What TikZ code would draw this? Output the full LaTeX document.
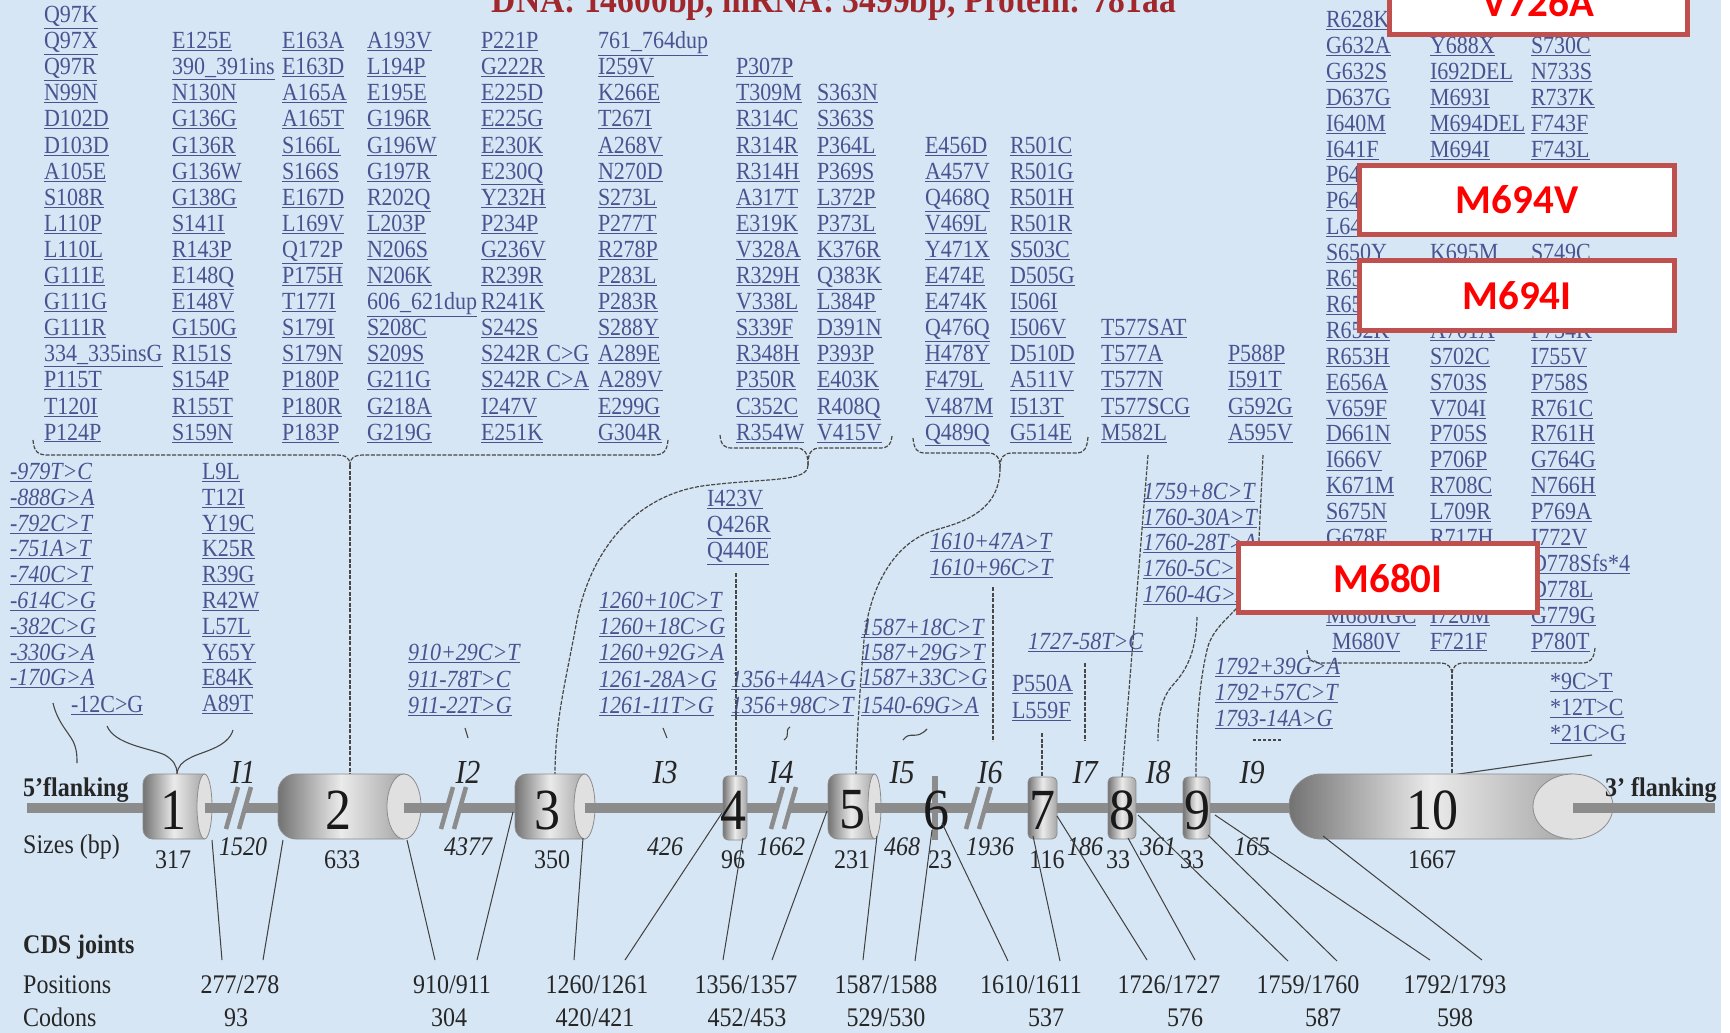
\documentclass[tikz,border=0pt]{standalone}
\usepackage{fontspec}
\usepackage{graphicx}
\setmainfont{Liberation Serif}
\newfontfamily\boxfont{Carlito}
\definecolor{bgblue}{RGB}{214,230,244}
\definecolor{linkblue}{RGB}{72,84,145}
\definecolor{boxred}{RGB}{192,80,77}
\definecolor{titlered}{RGB}{160,40,45}
\definecolor{axisgray}{RGB}{140,140,140}
\newcommand\mul[1]{\scalebox{1}[1.12]{\underline{#1}}}
\newcommand\vst[1]{\scalebox{1}[1.12]{#1}}
\begin{document}
\begin{tikzpicture}[x=1pt,y=-1pt,
  mut/.style={anchor=base west, inner sep=0pt, outer sep=0pt, text=linkblue, font=\fontsize{22}{24}\selectfont},
  imut/.style={mut, font=\fontsize{22}{24}\selectfont\itshape},
  conn/.style={draw=black!72, line width=1.2pt, dash pattern=on 4pt off 1.5pt},
  solidc/.style={draw=black!72, line width=1.1pt},
  joint/.style={draw=black!75, line width=1pt},
  exonbody/.style={left color=black!55, right color=black!35, middle color=black!8, draw=black!45, line width=0.8pt},
  face/.style={fill=black!12, draw=black!45, line width=0.8pt},
  exnum/.style={font=\fontsize{52}{52}\selectfont, text=black!90, inner sep=0pt},
  inlab/.style={font=\fontsize{30}{30}\selectfont\itshape, text=black!85, anchor=base, inner sep=0pt},
  isz/.style={font=\fontsize{24}{24}\selectfont\itshape, text=black!85, anchor=base, inner sep=0pt},
  esz/.style={font=\fontsize{24}{24}\selectfont, text=black!85, anchor=base, inner sep=0pt},
  lbl/.style={font=\fontsize{24}{24}\selectfont, text=black!85, anchor=base west, inner sep=0pt},
  blbl/.style={font=\fontsize{24}{24}\selectfont\bfseries, text=black!85, anchor=base west, inner sep=0pt},
  redbox/.style={draw=boxred, line width=5pt, fill=white, text=red, font=\boxfont\bfseries\fontsize{41}{44}\selectfont, inner sep=0pt},
  brk/.pic={\fill[bgblue] (-9.7,6) -- (3.3,6) -- (6.7,-6) -- (-6.3,-6) -- cycle;
            \draw[axisgray, line width=4.5pt] (-14,21) -- (-2,-21) (-1,21) -- (11,-21);}
]
\useasboundingbox (0,0) rectangle (1730,1033);
\clip (0,0) rectangle (1730,1033);
\fill[white] (0,0) rectangle (1730,1033);
\fill[bgblue] (0,0) rectangle (1721,1033);

% title
\node[font=\fontsize{33.6}{36}\selectfont\bfseries, text=titlered, anchor=base, inner sep=0pt] (title) at (834,12.5) {\vst{DNA: 14600bp, mRNA: 3499bp, Protein: 781aa}};

% ---------- exon 2-5 mutation columns ----------
\foreach \m [count=\r from 0] in {Q97K,Q97X,Q97R,N99N,D102D,D103D,A105E,S108R,L110P,L110L,G111E,G111G,G111R,334\_335insG,P115T,T120I,P124P}
  \node[mut] (a1-\r) at (44,{22.5+26.1*\r}) {\mul{\m}};
\foreach \m [count=\r from 1] in {E125E,390\_391ins,N130N,G136G,G136R,G136W,G138G,S141I,R143P,E148Q,E148V,G150G,R151S,S154P,R155T,S159N}
  \node[mut] (a2-\r) at (172,{22.5+26.1*\r}) {\mul{\m}};
\foreach \m [count=\r from 1] in {E163A,E163D,A165A,A165T,S166L,S166S,E167D,L169V,Q172P,P175H,T177I,S179I,S179N,P180P,P180R,P183P}
  \node[mut] (a3-\r) at (282,{22.5+26.1*\r}) {\mul{\m}};
\foreach \m [count=\r from 1] in {A193V,L194P,E195E,G196R,G196W,G197R,R202Q,L203P,N206S,N206K,606\_621dup,S208C,S209S,G211G,G218A,G219G}
  \node[mut] (a4-\r) at (367,{22.5+26.1*\r}) {\mul{\m}};
\foreach \m [count=\r from 1] in {P221P,G222R,E225D,E225G,E230K,E230Q,Y232H,P234P,G236V,R239R,R241K,S242S,S242R C>G,S242R C>A,I247V,E251K}
  \node[mut] (a5-\r) at (481,{22.5+26.1*\r}) {\mul{\m}};
\foreach \m [count=\r from 1] in {761\_764dup,I259V,K266E,T267I,A268V,N270D,S273L,P277T,R278P,P283L,P283R,S288Y,A289E,A289V,E299G,G304R}
  \node[mut] (a6-\r) at (598,{22.5+26.1*\r}) {\mul{\m}};
\foreach \m [count=\r from 2] in {P307P,T309M,R314C,R314R,R314H,A317T,E319K,V328A,R329H,V338L,S339F,R348H,P350R,C352C,R354W}
  \node[mut] (a7-\r) at (736,{22.5+26.1*\r}) {\mul{\m}};
\foreach \m [count=\r from 3] in {S363N,S363S,P364L,P369S,L372P,P373L,K376R,Q383K,L384P,D391N,P393P,E403K,R408Q,V415V}
  \node[mut] (a8-\r) at (817,{22.5+26.1*\r}) {\mul{\m}};
\foreach \m [count=\r from 5] in {E456D,A457V,Q468Q,V469L,Y471X,E474E,E474K,Q476Q,H478Y,F479L,V487M,Q489Q}
  \node[mut] (a9-\r) at (925,{22.5+26.1*\r}) {\mul{\m}};
\foreach \m [count=\r from 5] in {R501C,R501G,R501H,R501R,S503C,D505G,I506I,I506V,D510D,A511V,I513T,G514E}
  \node[mut] (a10-\r) at (1010,{22.5+26.1*\r}) {\mul{\m}};
\foreach \m [count=\r from 12] in {T577SAT,T577A,T577N,T577SCG,M582L}
  \node[mut] (a11-\r) at (1101,{22.5+26.1*\r}) {\mul{\m}};
\foreach \m [count=\r from 13] in {P588P,I591T,G592G,A595V}
  \node[mut] (a12-\r) at (1228,{22.5+26.1*\r}) {\mul{\m}};

% ---------- exon 10 columns ----------
\foreach \k/\m in {0/R628K,1/G632A,2/G632S,3/D637G,4/I640M,5/I641F,6/P64,7/P64,8/L64,9/S650Y,10/R65,11/R65,12/R652K,13/R653H,14/E656A,15/V659F,16/D661N,17/I666V,18/K671M,19/S675N,20/G678E,23/M680IGC}
  \node[mut] (b13-\k) at (1326,{27.5+25.9*\k}) {\mul{\m}};
\node[mut] (b13-24) at (1332,{27.5+25.9*24}) {\mul{M680V}};
\foreach \k/\m in {1/Y688X,2/I692DEL,3/M693I,4/M694DEL,5/M694I,9/K695M,12/A701A,13/S702C,14/S703S,15/V704I,16/P705S,17/P706P,18/R708C,19/L709R,20/R717H,23/I720M,24/F721F}
  \node[mut] (b14-\k) at (1430,{27.5+25.9*\k}) {\mul{\m}};
\foreach \k/\m in {1/S730C,2/N733S,3/R737K,4/F743F,5/F743L,9/S749C,12/F754K,13/I755V,14/P758S,15/R761C,16/R761H,17/G764G,18/N766H,19/P769A,20/I772V,21/D778Sfs*4,22/D778L,23/G779G,24/P780T}
  \node[mut] (b15-\k) at (1531,{27.5+25.9*\k}) {\mul{\m}};

% ---------- lower lists ----------
\foreach \m [count=\j from 0] in {-979T>C,-888G>A,-792C>T,-751A>T,-740C>T,-614C>G,-382C>G,-330G>A,-170G>A}
  \node[imut] (f5-\j) at (10,{479.5+25.8*\j}) {\mul{\m}};
\node[mut] (m12) at (71,712) {\mul{-12C>G}};
\foreach \m [count=\j from 0] in {L9L,T12I,Y19C,K25R,R39G,R42W,L57L,Y65Y,E84K,A89T}
  \node[mut] (e1-\j) at (202,{479.5+25.8*\j}) {\mul{\m}};
\foreach \m/\yy [count=\j] in {I423V/506.5,Q426R/532.5,Q440E/558.5}
  \node[mut] (e4-\j) at (707,\yy) {\mul{\m}};
\foreach \m/\yy [count=\j] in {910+29C>T/660.5,911-78T>C/687.5,911-22T>G/713.5}
  \node[imut] (i2-\j) at (408,\yy) {\mul{\m}};
\foreach \m/\yy [count=\j] in {1260+10C>T/608,1260+18C>G/634,1260+92G>A/660.5,1261-28A>G/687.5,1261-11T>G/713.5}
  \node[imut] (i3-\j) at (599,\yy) {\mul{\m}};
\foreach \m/\yy [count=\j] in {1356+44A>G/687.5,1356+98C>T/713.5}
  \node[imut] (i4-\j) at (731,\yy) {\mul{\m}};
\foreach \m/\yy [count=\j] in {1587+18C>T/635.5,1587+29G>T/660.5,1587+33C>G/685.5,1540-69G>A/713.5}
  \node[imut] (i5-\j) at (861,\yy) {\mul{\m}};
\foreach \m/\yy [count=\j] in {1610+47A>T/549.5,1610+96C>T/575.5}
  \node[imut] (i6-\j) at (930,\yy) {\mul{\m}};
\foreach \m/\yy [count=\j] in {P550A/691.5,L559F/718.5}
  \node[mut] (e7-\j) at (1012,\yy) {\mul{\m}};
\node[imut] (i7-1) at (1028,649.5) {\mul{1727-58T>C}};
\foreach \m/\yy [count=\j] in {1759+8C>T/499.5,1760-30A>T/525,1760-28T>A/550,1760-5C>T/576,1760-4G>A/602.5}
  \node[imut] (i8-\j) at (1143,\yy) {\mul{\m}};
\foreach \m/\yy [count=\j] in {1792+39G>A/674.5,1792+57C>T/700.5,1793-14A>G/726.5}
  \node[imut] (i9-\j) at (1215,\yy) {\mul{\m}};
\foreach \m/\yy [count=\j] in {*9C>T/689.5,*12T>C/715.5,*21C>G/741.5}
  \node[mut] (u3-\j) at (1550,\yy) {\mul{\m}};

% ---------- coordinates for connectors ----------
\coordinate (ex1top) at (177,774);
\coordinate (ex2top) at (350,774);
\coordinate (ex3top) at (555,775);
\coordinate (ex4top) at (736,776);
\coordinate (ex5top) at (856,775);
\coordinate (ex7top) at (1042,777);
\coordinate (ex8top) at (1122,777);
\coordinate (ex9top) at (1196,777);
\coordinate (ex10top) at (1452,775);

% brace 1 (exon 2)
\coordinate (b1l) at (33,440); \coordinate (b1r) at (668,440); \coordinate (b1t) at (350,465);
\draw[conn] (b1l) .. controls (34,452) and (38,455) .. (48,455) -- (336,455) .. controls (346,455) and (350,458) .. (b1t);
\draw[conn] (b1r) .. controls (667,452) and (663,455) .. (653,455) -- (364,455) .. controls (354,455) and (350,458) .. (b1t);
\draw[conn] (b1t) -- (ex2top);
% brace 2 (exon 3)
\coordinate (b2l) at (720,435); \coordinate (b2r) at (892,436); \coordinate (b2t) at (808,465);
\draw[conn] (b2l) .. controls (721,445) and (724,448) .. (732,448) -- (796,448) .. controls (804,448) and (808,452) .. (b2t);
\draw[conn] (b2r) .. controls (891,445) and (888,448) .. (880,448) -- (820,448) .. controls (812,448) and (808,452) .. (b2t);
\draw[conn] (b2t) .. controls (808,482) and (770,478) .. (710,485) .. controls (640,492) and (592,545) .. (577,620) .. controls (566,680) and (555,720) .. (ex3top);
% brace 3 (exon 5)
\coordinate (b3l) at (913,438); \coordinate (b3r) at (1088,437); \coordinate (b3t) at (1000,468);
\draw[conn] (b3l) .. controls (914,449) and (917,453) .. (925,453) -- (988,453) .. controls (996,453) and (1000,457) .. (b3t);
\draw[conn] (b3r) .. controls (1087,449) and (1084,453) .. (1076,453) -- (1012,453) .. controls (1004,453) and (1000,457) .. (b3t);
\draw[conn] (b3t) .. controls (1000,510) and (965,522) .. (935,530) .. controls (895,542) and (870,585) .. (864,640) .. controls (860,690) and (857,730) .. (ex5top);
% brace 4 (exon 10)
\coordinate (b4l) at (1307,650); \coordinate (b4r) at (1595,648); \coordinate (b4t) at (1452,675);
\draw[conn] (b4l) .. controls (1308,660) and (1312,663) .. (1320,663) -- (1440,663) .. controls (1448,663) and (1452,667) .. (b4t);
\draw[conn] (b4r) .. controls (1594,659) and (1590,663) .. (1582,663) -- (1464,663) .. controls (1456,663) and (1452,667) .. (b4t);
\draw[conn] (b4t) -- (ex10top);
\coordinate (utr3) at (1592,755);
\draw[solidc] (ex10top) -- (utr3);

% small connectors
\coordinate (c5a) at (53,703); \coordinate (c5b) at (77,763);
\draw[solidc] (c5a) .. controls (58,725) and (72,735) .. (75,746) .. controls (77,752) and (77,758) .. (c5b);
\coordinate (c1a) at (107,726); \coordinate (c1b) at (233,730);
\draw[solidc] (c1a) .. controls (115,745) and (150,748) .. (165,755) .. controls (173,760) and (177,765) .. (ex1top);
\draw[solidc] (c1b) .. controls (228,748) and (200,752) .. (190,758) .. controls (182,762) and (178,766) .. (ex1top);
\coordinate (t2a) at (465,728); \coordinate (t2b) at (468,738);
\draw[solidc] (t2a) -- (t2b);
\coordinate (t3a) at (663,728); \coordinate (t3b) at (667,738);
\draw[solidc] (t3a) -- (t3b);
\coordinate (t4a) at (790,727); \coordinate (t4b) at (784,740);
\draw[solidc] (t4a) .. controls (784,731) and (791,735) .. (t4b);
\coordinate (t5a) at (903,740); \coordinate (t5b) at (927,729);
\draw[solidc] (t5a) .. controls (910,730) and (916,741) .. (t5b);
\coordinate (e4a) at (736,573);
\draw[conn] (e4a) -- (ex4top);
\coordinate (v16a) at (993,587); \coordinate (v16b) at (993,741);
\draw[conn] (v16a) -- (v16b);
\coordinate (v7a) at (1042,733);
\draw[conn] (v7a) -- (ex7top);
\coordinate (v17a) at (1085,663); \coordinate (v17b) at (1085,741);
\draw[conn] (v17a) -- (v17b);
\coordinate (t577) at (1148,455);
\draw[conn] (t577) -- (ex8top);
\coordinate (p588) at (1263,455);
\draw[conn] (p588) -- (1258,560) .. controls (1255,610) and (1215,615) .. (1207,650) .. controls (1200,680) and (1196,720) .. (ex9top);
\coordinate (i18a) at (1197,617); \coordinate (i18b) at (1158,741);
\draw[conn] (i18a) .. controls (1196,655) and (1185,672) .. (1172,686) .. controls (1160,700) and (1158,720) .. (i18b);
\coordinate (t19a) at (1253,740); \coordinate (t19b) at (1281,740);
\draw[solidc, dash pattern=on 3pt off 2pt] (t19a) -- (t19b);

% ---------- gene axis and exons ----------
\draw[axisgray, line width=10pt] (27,808) -- (1715,808);
% exon 1
\shadedraw[exonbody, rounded corners=10pt] (204.5,774) -- (143,774) -- (143,839) -- (204.5,839);
\filldraw[face] (204.5,806.5) ellipse [x radius=7.5, y radius=32.5];
% exon 2
\shadedraw[exonbody, rounded corners=18pt] (404,774) -- (278,774) -- (278,839) -- (404,839);
\filldraw[face] (404,806.5) ellipse [x radius=17, y radius=32.5];
% exon 3
\shadedraw[exonbody, rounded corners=12pt] (584.5,774) -- (515,774) -- (515,839) -- (584.5,839);
\filldraw[face] (584.5,806.5) ellipse [x radius=10.5, y radius=32.5];
% exon 4
\shadedraw[exonbody, rounded corners=5pt] (723,776) rectangle (747,840);
% exon 5
\shadedraw[exonbody, rounded corners=10pt] (874.5,774) -- (828,774) -- (828,839) -- (874.5,839);
\filldraw[face] (874.5,806.5) ellipse [x radius=6.5, y radius=32.5];
% exons 7,8,9
\shadedraw[exonbody, rounded corners=5pt] (1028,777) rectangle (1057,839);
\shadedraw[exonbody, rounded corners=5pt] (1108,777) rectangle (1136,839);
\shadedraw[exonbody, rounded corners=5pt] (1183,777) rectangle (1210,839);
% exon 10
\shadedraw[exonbody, rounded corners=32pt] (1573,774) -- (1289,774) -- (1289,839) -- (1573,839);
\filldraw[face] (1573,806.5) ellipse [x radius=40, y radius=32.5];
% axis segments leaving the cylinder faces
\draw[axisgray, line width=10pt] (204.5,808) -- (278,808) (404,808) -- (515,808) (584.5,808) -- (723,808) (874.5,808) -- (1028,808) (1573,808) -- (1715,808);
% exon 6
\fill[axisgray] (932,776) rectangle (938,840);
% intron breaks
\pic (brkA) at (240,808) {brk};
\pic (brkB) at (455,808) {brk};
\pic (brkC) at (785,808) {brk};
\pic (brkD) at (980,808) {brk};

% exon numbers
\foreach \n/\xx in {1/173,2/338,3/547,4/733,5/852,6/936,7/1042,8/1122,9/1197}
  \node[exnum] (ex\n) at (\xx,810) {\vst{\n}};
\node[exnum] (ex10) at (1432,810) {\vst{10}};

% intron labels and sizes
\foreach \n/\xx/\s in {1/243/1520,2/468/4377,3/665/426,4/781/1662,5/902/468,6/990/1936,7/1085/186,8/1158/361,9/1252/165}{
  \node[inlab] (in\n) at (\xx,783) {\vst{I\n}};
  \node[isz] (isz\n) at (\xx,855) {\vst{\s}};
}
\foreach \n/\xx/\s in {1/173/317,2/342/633,3/552/350,4/733/96,5/852/231,6/940/23,7/1047/116,8/1118/33,9/1192/33,10/1432/1667}
  \node[esz] (esz\n) at (\xx,868) {\vst{\s}};

% CDS joint lines
\foreach \i/\ax/\ay/\bx/\by in {1/212/840/222/960, 2/283/840/263/960, 3/407/840/435/960, 4/513/812/477/960,
   5/583/838/574/960, 6/722/813/625/960, 7/743/838/723/960, 8/827/811/772/960,
   9/877/836/863/960, 10/932/830/915/961, 11/942/823/1008/961, 12/1033/836/1060/961,
   13/1057/816/1147/960, 14/1128/838/1195/960, 15/1138/815/1288/961, 16/1208/835/1337/961,
   17/1215/815/1430/960, 18/1323/836/1482/960}{
  \coordinate (ja\i) at (\ax,\ay); \coordinate (jb\i) at (\bx,\by);
  \draw[joint] (ja\i) -- (jb\i);
}

% positions and codons
\foreach \t/\xx [count=\i] in {{277\slash278}/240, {910\slash911}/452, {1260\slash1261}/597, {1356\slash1357}/746, {1587\slash1588}/886, {1610\slash1611}/1031, {1726\slash1727}/1169, {1759\slash1760}/1308, {1792\slash1793}/1455}
  \node[esz] (pos\i) at (\xx,993) {\vst{\t}};
\foreach \t/\xx [count=\i] in {93/236, 304/449, {420\slash421}/595, {452\slash453}/747, {529\slash530}/886, 537/1046, 576/1185, 587/1323, 598/1455}
  \node[esz] (cod\i) at (\xx,1026) {\vst{\t}};

% side labels
\node[blbl] (l5) at (23,796) {\vst{5’flanking}};
\node[lbl] (lsz) at (23,853) {\vst{Sizes (bp)}};
\node[blbl] (lcds) at (23,953) {\vst{CDS joints}};
\node[lbl] (lpos) at (23,993) {\vst{Positions}};
\node[lbl] (lcod) at (23,1026) {\vst{Codons}};
\node[blbl] (l3) at (1605,796) {\vst{3’ flanking}};

% highlighted boxes
\node[redbox, minimum width=298pt, minimum height=64pt] (bV726A) at (1538.5,3) {V726A};
\node[redbox, minimum width=315pt, minimum height=69pt] (bM694V) at (1517,200) {M694V};
\node[redbox, minimum width=315pt, minimum height=70pt] (bM694I) at (1517,295.5) {M694I};
\node[redbox, minimum width=299pt, minimum height=69pt] (bM680I) at (1388,578) {M680I};
\end{tikzpicture}
\end{document}
